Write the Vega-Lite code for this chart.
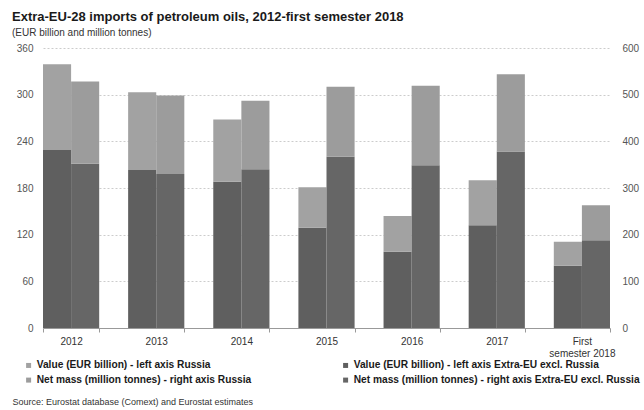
{
  "$schema": "https://vega.github.io/schema/vega-lite/v6.json",
  "width": 567,
  "height": 280,
  "autosize": "none",
  "padding": {"left": 43, "top": 48, "right": 34, "bottom": 82},
  "background": "white",
  "config": {
    "font": "Liberation Sans",
    "view": {"stroke": null}
  },
  "title": {
    "text": "Extra-EU-28 imports of petroleum oils, 2012-first semester 2018",
    "subtitle": "(EUR billion and million tonnes)",
    "anchor": "start",
    "frame": "group",
    "dx": -31,
    "offset": 5,
    "fontSize": 13,
    "fontWeight": "bold",
    "color": "#1a1a1a",
    "subtitleFontSize": 10,
    "subtitleColor": "#333333",
    "subtitlePadding": 4
  },
  "data": {
    "values": [
      {"period": "2012", "measure": "Value", "region": "Extra-EU excl. Russia", "series": "Value (EUR billion) - left axis Extra-EU excl. Russia", "amount": 229},
      {"period": "2012", "measure": "Value", "region": "Russia", "series": "Value (EUR billion) - left axis Russia", "amount": 110},
      {"period": "2012", "measure": "Mass", "region": "Extra-EU excl. Russia", "series": "Net mass (million tonnes) - right axis Extra-EU excl. Russia", "amount": 352},
      {"period": "2012", "measure": "Mass", "region": "Russia", "series": "Net mass (million tonnes) - right axis Russia", "amount": 176},
      {"period": "2013", "measure": "Value", "region": "Extra-EU excl. Russia", "series": "Value (EUR billion) - left axis Extra-EU excl. Russia", "amount": 203},
      {"period": "2013", "measure": "Value", "region": "Russia", "series": "Value (EUR billion) - left axis Russia", "amount": 100},
      {"period": "2013", "measure": "Mass", "region": "Extra-EU excl. Russia", "series": "Net mass (million tonnes) - right axis Extra-EU excl. Russia", "amount": 330},
      {"period": "2013", "measure": "Mass", "region": "Russia", "series": "Net mass (million tonnes) - right axis Russia", "amount": 168},
      {"period": "2014", "measure": "Value", "region": "Extra-EU excl. Russia", "series": "Value (EUR billion) - left axis Extra-EU excl. Russia", "amount": 188},
      {"period": "2014", "measure": "Value", "region": "Russia", "series": "Value (EUR billion) - left axis Russia", "amount": 80},
      {"period": "2014", "measure": "Mass", "region": "Extra-EU excl. Russia", "series": "Net mass (million tonnes) - right axis Extra-EU excl. Russia", "amount": 340},
      {"period": "2014", "measure": "Mass", "region": "Russia", "series": "Net mass (million tonnes) - right axis Russia", "amount": 147},
      {"period": "2015", "measure": "Value", "region": "Extra-EU excl. Russia", "series": "Value (EUR billion) - left axis Extra-EU excl. Russia", "amount": 129},
      {"period": "2015", "measure": "Value", "region": "Russia", "series": "Value (EUR billion) - left axis Russia", "amount": 52},
      {"period": "2015", "measure": "Mass", "region": "Extra-EU excl. Russia", "series": "Net mass (million tonnes) - right axis Extra-EU excl. Russia", "amount": 367},
      {"period": "2015", "measure": "Mass", "region": "Russia", "series": "Net mass (million tonnes) - right axis Russia", "amount": 150},
      {"period": "2016", "measure": "Value", "region": "Extra-EU excl. Russia", "series": "Value (EUR billion) - left axis Extra-EU excl. Russia", "amount": 98},
      {"period": "2016", "measure": "Value", "region": "Russia", "series": "Value (EUR billion) - left axis Russia", "amount": 46},
      {"period": "2016", "measure": "Mass", "region": "Extra-EU excl. Russia", "series": "Net mass (million tonnes) - right axis Extra-EU excl. Russia", "amount": 349},
      {"period": "2016", "measure": "Mass", "region": "Russia", "series": "Net mass (million tonnes) - right axis Russia", "amount": 170},
      {"period": "2017", "measure": "Value", "region": "Extra-EU excl. Russia", "series": "Value (EUR billion) - left axis Extra-EU excl. Russia", "amount": 132},
      {"period": "2017", "measure": "Value", "region": "Russia", "series": "Value (EUR billion) - left axis Russia", "amount": 58},
      {"period": "2017", "measure": "Mass", "region": "Extra-EU excl. Russia", "series": "Net mass (million tonnes) - right axis Extra-EU excl. Russia", "amount": 378},
      {"period": "2017", "measure": "Mass", "region": "Russia", "series": "Net mass (million tonnes) - right axis Russia", "amount": 166},
      {"period": "First semester 2018", "measure": "Value", "region": "Extra-EU excl. Russia", "series": "Value (EUR billion) - left axis Extra-EU excl. Russia", "amount": 80},
      {"period": "First semester 2018", "measure": "Value", "region": "Russia", "series": "Value (EUR billion) - left axis Russia", "amount": 31},
      {"period": "First semester 2018", "measure": "Mass", "region": "Extra-EU excl. Russia", "series": "Net mass (million tonnes) - right axis Extra-EU excl. Russia", "amount": 188},
      {"period": "First semester 2018", "measure": "Mass", "region": "Russia", "series": "Net mass (million tonnes) - right axis Russia", "amount": 75}
    ]
  },
  "encoding": {
    "x": {
      "field": "period",
      "type": "nominal",
      "sort": null,
      "scale": {"paddingInner": 0.34, "paddingOuter": 0},
      "axis": {
        "title": "Source: Eurostat database (Comext) and Eurostat estimates",
        "titleAnchor": "start",
        "titleAlign": "left",
        "titleX": -31,
        "titleY": 76,
        "titleBaseline": "alphabetic",
        "titleFontSize": 9,
        "titleFontWeight": "normal",
        "titleColor": "#333333",
        "labelAngle": 0,
        "labelFontSize": 10,
        "labelColor": "#333333",
        "labelPadding": 4,
        "labelExpr": "datum.label == 'First semester 2018' ? ['First', 'semester 2018'] : datum.label",
        "domainColor": "#999999",
        "tickColor": "#999999",
        "tickBand": "extent",
        "tickSize": 4,
        "grid": false
      }
    },
    "xOffset": {
      "field": "measure",
      "type": "nominal",
      "scale": {"domain": ["Value", "Mass"], "paddingInner": 0, "paddingOuter": 0}
    },
    "color": {
      "field": "series",
      "type": "nominal",
      "scale": {
        "domain": [
          "Value (EUR billion) - left axis Russia",
          "Net mass (million tonnes) - right axis Russia",
          "Value (EUR billion) - left axis Extra-EU excl. Russia",
          "Net mass (million tonnes) - right axis Extra-EU excl. Russia"
        ],
        "range": ["#a2a2a2", "#9c9c9c", "#5f5f5f", "#666666"]
      },
      "legend": {
        "title": null,
        "orient": "none",
        "legendX": -19.5,
        "legendY": 312,
        "columns": 2,
        "columnPadding": 89,
        "rowPadding": 4,
        "symbolType": "square",
        "symbolSize": 25,
        "symbolStrokeWidth": 0,
        "labelOffset": 3,
        "labelFont": "Liberation Sans",
        "labelFontSize": 10.2,
        "labelFontWeight": "bold",
        "labelColor": "#1a1a1a",
        "labelLimit": 400
      }
    },
    "order": {"field": "region", "sort": "ascending"}
  },
  "layer": [
    {
      "transform": [{"filter": "datum.measure == 'Value'"}],
      "mark": {"type": "bar"},
      "encoding": {
        "y": {
          "field": "amount",
          "type": "quantitative",
          "stack": "zero",
          "scale": {"domain": [0, 360], "nice": false},
          "axis": {
            "title": null,
            "orient": "left",
            "values": [0, 60, 120, 180, 240, 300, 360],
            "labelFontSize": 10,
            "labelColor": "#555555",
            "labelPadding": 10,
            "ticks": false,
            "domain": false,
            "grid": true,
            "gridColor": "#cccccc",
            "gridDash": [2, 2]
          }
        }
      }
    },
    {
      "transform": [{"filter": "datum.measure == 'Mass'"}],
      "mark": {"type": "bar"},
      "encoding": {
        "y": {
          "field": "amount",
          "type": "quantitative",
          "stack": "zero",
          "scale": {"domain": [0, 600], "nice": false},
          "axis": {
            "title": null,
            "orient": "right",
            "values": [0, 100, 200, 300, 400, 500, 600],
            "labelFontSize": 10,
            "labelColor": "#555555",
            "labelPadding": 12,
            "ticks": false,
            "domain": false,
            "grid": false
          }
        }
      }
    }
  ],
  "resolve": {"scale": {"y": "independent"}}
}
